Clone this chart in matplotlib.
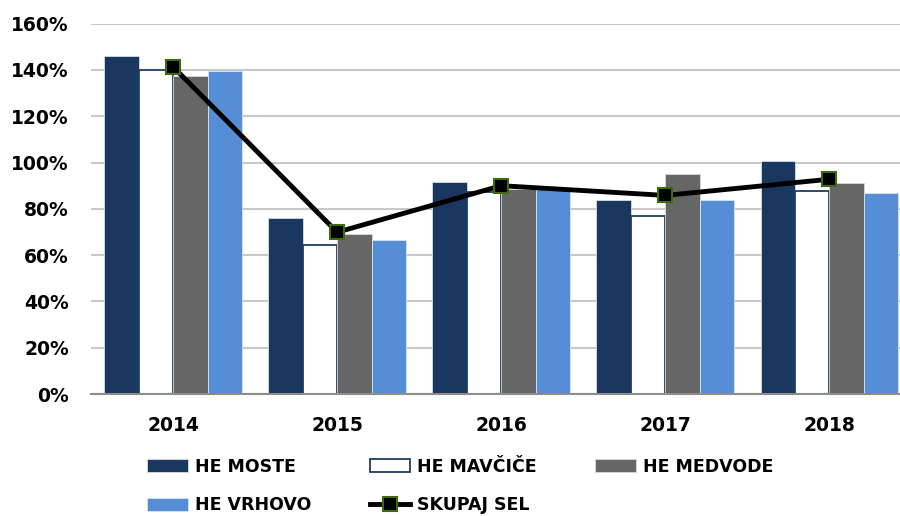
import numpy as np
import matplotlib
matplotlib.use("Agg")
from matplotlib import pyplot as plt

years = ["2014", "2015", "2016", "2017", "2018"]
he_moste = [1.46, 0.76, 0.915, 0.84, 1.005]
he_mavcice = [1.40, 0.643, 0.873, 0.768, 0.878]
he_medvode = [1.372, 0.693, 0.885, 0.95, 0.91]
he_vrhovo = [1.395, 0.666, 0.886, 0.84, 0.868]
skupaj_sel = [1.414, 0.699, 0.90, 0.858, 0.928]

plt.rcParams['font.family'] = ['DejaVu Sans']
plt.rcParams['font.weight'] = 'bold'

fig = plt.figure(figsize=(9, 5.16), dpi=100)
ax = fig.add_axes([91 / 900, 122 / 516, 809 / 900, (394 - 23.7) / 516])

x = np.arange(len(years))
w = 0.21
ax.bar(x - 1.5 * w, he_moste, w, color='#1a375f', edgecolor='#d9dde6', linewidth=0.6, label='HE MOSTE', zorder=2)
ax.bar(x - 0.5 * w, he_mavcice, w, color='white', edgecolor='#1f3d66', linewidth=1.3, label='HE MAVČIČE', zorder=2)
ax.bar(x + 0.5 * w, he_medvode, w, color='#666666', edgecolor='#d9d9d9', linewidth=0.6, label='HE MEDVODE', zorder=2)
ax.bar(x + 1.5 * w, he_vrhovo, w, color='#558ed5', edgecolor='#dbe5f3', linewidth=0.6, label='HE VRHOVO', zorder=2)
ax.plot(x, skupaj_sel, color='black', linewidth=3.5, marker='s', markersize=10,
        markerfacecolor='black', markeredgecolor='#3b6b0a', markeredgewidth=1.5,
        label='SKUPAJ SEL', zorder=3)

ax.set_xlim(-0.5, 4.43)
ax.set_ylim(0, 1.6)
ticks = np.arange(0, 1.61, 0.2)
ax.set_yticks(ticks)
ax.set_yticklabels([f"{int(round(v * 100))}%" for v in ticks], fontsize=13.5, fontweight='bold')
ax.set_xticks(x)
ax.set_xticklabels(years, fontsize=13.5, fontweight='bold')
ax.tick_params(axis='both', length=0)
ax.tick_params(axis='x', pad=16)
ax.tick_params(axis='y', pad=16)

ax.grid(axis='y', color='#c8c8c8', linewidth=1.5, zorder=0)
ax.set_axisbelow(True)
for s in ['top', 'right', 'left']:
    ax.spines[s].set_visible(False)
ax.spines['bottom'].set_color('#8c8c8c')
ax.spines['bottom'].set_linewidth(1.5)
ax.spines['bottom'].set_zorder(4)

handles, labels = ax.get_legend_handles_labels()
# legend fills column by column: rows read MOSTE, MAVCICE, MEDVODE / VRHOVO, SKUPAJ
order = [1, 4, 2, 0, 3]
fig.legend([handles[i] for i in order], [labels[i] for i in order],
           loc='upper left', bbox_to_anchor=(0.154, 0.13), ncol=3, frameon=False,
           prop={'size': 12.5, 'weight': 'bold'}, handlelength=2.35, handleheight=0.75,
           handletextpad=0.4, columnspacing=3.35, labelspacing=1.2, borderpad=0)

plt.savefig("out.png", dpi=100)
